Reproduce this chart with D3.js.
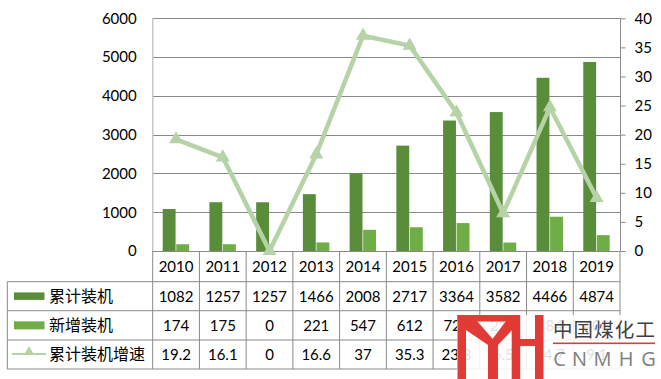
<!DOCTYPE html>
<html>
<head>
<meta charset="utf-8">
<script src="https://cdn.jsdelivr.net/npm/d3@7/dist/d3.min.js"></script>
<style>
  html, body { margin: 0; padding: 0; background: #fff; }
  svg { display: block; }
  .num { font-family: Lato, "Open Sans", "Liberation Sans", sans-serif; font-size: 15px; fill: #000; }
  .cjk { font-family: "Noto Sans CJK SC", sans-serif; font-size: 16px; fill: #000; }
</style>
</head>
<body>
<svg id="chart" width="661" height="379"></svg>
<script>
const years = ['2010','2011','2012','2013','2014','2015','2016','2017','2018','2019'];
const cumulative = [1082,1257,1257,1466,2008,2717,3364,3582,4466,4874];
const added = [174,175,0,221,547,612,720,218,884,408];
const growth = [19.2,16.1,0,16.6,37,35.3,23.8,6.5,24.7,9.1];
const leftTicks = [0,1000,2000,3000,4000,5000,6000];
const rightTicks = [0,5,10,15,20,25,30,35,40];
const seriesNames = ['累计装机','新增装机','累计装机增速'];

const colDark = '#5a8d39', colLight = '#70ad47', colLine = '#b5d3a6';
const gridCol = '#898989';

const svg = d3.select('#chart');
const L = 152.7, R = 620, T = 18.3, B = 251;
const rowY = [251, 281.7, 310.7, 340, 369];
const legendX = 7.3;

const x = d3.scaleBand().domain(years).range([L, R]).padding(0);
const bw = x.bandwidth();
const xIn = d3.scaleBand().domain(['c','a']).range([10, bw - 10.3]).paddingInner(0.05);
const yL = d3.scaleLinear().domain([0, 6000]).range([B, T]);
const yR = d3.scaleLinear().domain([0, 40]).range([B, T]);

// gridlines
svg.append('g').selectAll('line').data(leftTicks).join('line')
  .attr('x1', L).attr('x2', R)
  .attr('y1', d => Math.round(yL(d)) + 0.5).attr('y2', d => Math.round(yL(d)) + 0.5)
  .attr('stroke', gridCol).attr('stroke-width', 1);

// left axis labels
const gl = svg.append('g').attr('transform', `translate(${L - 16},0)`)
  .call(d3.axisLeft(yL).tickValues(leftTicks).tickFormat(d3.format('d')).tickSize(0).tickPadding(0));
gl.select('.domain').remove();
gl.selectAll('text').attr('class', 'num').attr('font-family', null).attr('font-size', null).attr('fill', '#000');

// left axis line (light)
svg.append('line').attr('x1', L).attr('x2', L).attr('y1', T).attr('y2', B)
  .attr('stroke', '#c6c6c6').attr('stroke-width', 1.5);

// right axis
const gr = svg.append('g').attr('transform', `translate(${R + 0.5},0)`)
  .call(d3.axisRight(yR).tickValues(rightTicks).tickFormat(d3.format('d')).tickSize(5).tickPadding(9));
gr.select('.domain').attr('stroke', gridCol).attr('d', `M0,${T}V${B}`);
gr.selectAll('.tick line').attr('stroke', gridCol);
gr.selectAll('text').attr('class', 'num').attr('font-family', null).attr('font-size', null).attr('fill', '#000');

// table lines
const tbl = svg.append('g').attr('stroke', gridCol).attr('stroke-width', 1);
rowY.slice(1).forEach(yy => {
  tbl.append('line').attr('x1', legendX).attr('x2', R).attr('y1', yy).attr('y2', yy);
});
tbl.append('line').attr('x1', legendX).attr('x2', legendX).attr('y1', rowY[1]).attr('y2', rowY[4]);
const colEdges = years.map(y => x(y)).concat([R]);
tbl.selectAll('line.v').data(colEdges).join('line').attr('class', 'v')
  .attr('x1', d => d).attr('x2', d => d).attr('y1', B).attr('y2', rowY[4]);

// table text
const rowCenter = i => (rowY[i] + rowY[i + 1]) / 2;
const tt = svg.append('g');
tt.selectAll('text.yr').data(years).join('text').attr('class', 'num yr')
  .attr('x', d => x(d) + bw / 2).attr('y', rowCenter(0)).attr('dy', '0.36em')
  .attr('text-anchor', 'middle').text(d => d);
[cumulative, added, growth].forEach((arr, r) => {
  tt.selectAll('text.r' + r).data(arr).join('text').attr('class', 'num r' + r)
    .attr('x', (d, i) => x(years[i]) + bw / 2).attr('y', rowCenter(r + 1)).attr('dy', '0.36em')
    .attr('text-anchor', 'middle').text(d => d);
});

// legend cells
const lg = svg.append('g');
lg.append('rect').attr('x', 14).attr('y', rowCenter(1) - 3.8).attr('width', 30.5).attr('height', 7.5).attr('fill', colDark);
lg.append('rect').attr('x', 14).attr('y', rowCenter(2) - 4).attr('width', 30.5).attr('height', 8).attr('fill', colLight);
lg.append('line').attr('x1', 12).attr('x2', 46).attr('y1', rowCenter(3) - 0.5).attr('y2', rowCenter(3) - 0.5)
  .attr('stroke', colLine).attr('stroke-width', 2);
lg.append('path').attr('d', d3.symbol(d3.symbolTriangle, 40)())
  .attr('transform', `translate(29,${rowCenter(3) - 3})`).attr('fill', colLine);
seriesNames.forEach((n, i) => {
  lg.append('text').attr('class', 'cjk').attr('x', 49).attr('y', rowCenter(i + 1)).attr('dy', '0.36em').text(n);
});

// bars
const bars = svg.append('g');
bars.selectAll('rect.c').data(cumulative).join('rect').attr('class', 'c')
  .attr('x', (d, i) => x(years[i]) + xIn('c')).attr('width', xIn.bandwidth())
  .attr('y', d => yL(d)).attr('height', d => B - yL(d)).attr('fill', colDark);
bars.selectAll('rect.a').data(added).join('rect').attr('class', 'a')
  .attr('x', (d, i) => x(years[i]) + xIn('a')).attr('width', xIn.bandwidth())
  .attr('y', d => yL(d)).attr('height', d => B - yL(d)).attr('fill', colLight);

// line
const line = d3.line().x((d, i) => x(years[i]) + bw / 2).y(d => yR(d));
svg.append('path').datum(growth).attr('d', line)
  .attr('fill', 'none').attr('stroke', colLine).attr('stroke-width', 4.5)
  .attr('stroke-linejoin', 'round').attr('stroke-linecap', 'round');
svg.append('g').selectAll('path').data(growth).join('path')
  .attr('d', d3.symbol(d3.symbolTriangle, 85)())
  .attr('transform', (d, i) => `translate(${x(years[i]) + bw / 2},${yR(d)})`)
  .attr('fill', colLine);

// watermark
const wm = svg.append('g');
wm.append('rect').attr('x', 457).attr('y', 315).attr('width', 204).attr('height', 64)
  .attr('fill', '#fff').attr('opacity', 0.88);
const red = '#e23a34';
const logo = wm.append('g').attr('fill', red);
logo.append('rect').attr('x', 457.5).attr('y', 315).attr('width', 8.5).attr('height', 64);
logo.append('rect').attr('x', 457.5).attr('y', 315).attr('width', 62.5).attr('height', 6.5);
logo.append('rect').attr('x', 488).attr('y', 342).attr('width', 10).attr('height', 37);
logo.append('polygon').attr('points', '466,321 477,321 498,345 488,345 466,330');
logo.append('polygon').attr('points', '512,321 512,330 498,345 488,345 506,321');
logo.append('rect').attr('x', 511.7).attr('y', 315).attr('width', 8.5).attr('height', 64);
logo.append('rect').attr('x', 535).attr('y', 315).attr('width', 8.5).attr('height', 64);
logo.append('rect').attr('x', 520).attr('y', 339).attr('width', 15).attr('height', 7);
wm.append('text').attr('x', 553).attr('y', 330).attr('dy', '0.36em')
  .attr('font-family', '"Noto Sans CJK SC", sans-serif').attr('font-size', 19.5)
  .attr('fill', '#404040').attr('textLength', 102).attr('lengthAdjust', 'spacing').text('中国煤化工');
wm.append('rect').attr('x', 553).attr('y', 342.5).attr('width', 102).attr('height', 1.6).attr('fill', red);
const letters = ['C','N','M','H','G'];
const lx = [559.5, 579.5, 602.5, 626, 648.5];
wm.selectAll('text.l').data(letters).join('text').attr('class', 'l')
  .attr('x', (d, i) => lx[i]).attr('y', 359).attr('dy', '0.36em').attr('text-anchor', 'middle')
  .attr('font-family', '"Open Sans", sans-serif').attr('font-size', 20).attr('fill', '#808080').text(d => d);
</script>
</body>
</html>
